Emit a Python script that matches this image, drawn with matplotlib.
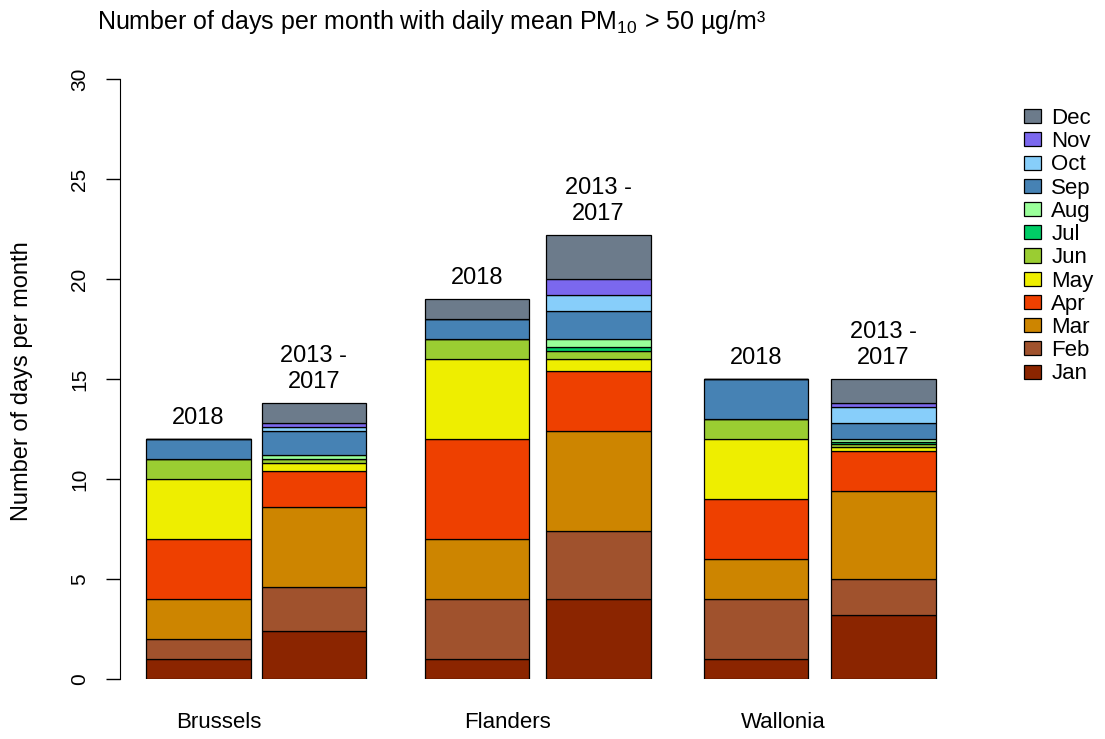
import matplotlib
matplotlib.use("Agg")
import matplotlib.pyplot as plt
import numpy as np

plt.rcParams['font.family'] = ['Liberation Sans', 'DejaVu Sans']
plt.rcParams['mathtext.fontset'] = 'custom'
plt.rcParams['mathtext.rm'] = 'Liberation Sans'
plt.rcParams['mathtext.it'] = 'Liberation Sans'

months = ["Jan", "Feb", "Mar", "Apr", "May", "Jun",
          "Jul", "Aug", "Sep", "Oct", "Nov", "Dec"]
colors = ["#8B2500", "#A0522D", "#CD8500", "#EE4000", "#EEEE00", "#9ACD32",
          "#00CD66", "#9AFF9A", "#4682B4", "#87CEFA", "#7B68EE", "#6C7B8B"]

regions = ["Brussels", "Flanders", "Wallonia"]
bar_labels = ["2018", "2013 -\n2017"] * 3

# days per month, one list per bar (Jan..Dec)
brussels_2018 = [1, 1, 2, 3, 3, 1, 0, 0, 1, 0, 0, 0]
brussels_1317 = [2.4, 2.2, 4.0, 1.8, 0.4, 0.2, 0.0, 0.2, 1.2, 0.2, 0.2, 1.0]
flanders_2018 = [1, 3, 3, 5, 4, 1, 0, 0, 1, 0, 0, 1]
flanders_1317 = [4.0, 3.4, 5.0, 3.0, 0.6, 0.4, 0.2, 0.4, 1.4, 0.8, 0.8, 2.2]
wallonia_2018 = [1, 3, 2, 3, 3, 1, 0, 0, 2, 0, 0, 0]
wallonia_1317 = [3.2, 1.8, 4.4, 2.0, 0.2, 0.15, 0.1, 0.15, 0.8, 0.8, 0.2, 1.2]

data = np.array([brussels_2018, brussels_1317, flanders_2018,
                 flanders_1317, wallonia_2018, wallonia_1317])

xpos = np.array([0, 1.06, 2.56, 3.68, 5.13, 6.30])
region_x = [0.19, 2.84, 5.38]
width = 0.96

fig = plt.figure(figsize=(11.05, 7.39), dpi=100)
ax = fig.add_axes([120 / 1105, 60 / 739, 840 / 1105, 600 / 739])

bottom = np.zeros(len(xpos))
for i, m in enumerate(months):
    ax.bar(xpos, data[:, i], width=width, bottom=bottom, color=colors[i],
           edgecolor="black", linewidth=0.9, label=m)
    bottom += data[:, i]

totals = data.sum(axis=1)
for x, t, lab in zip(xpos, totals, bar_labels):
    ax.text(x, t + 0.5, lab, ha="center", va="bottom", fontsize=17,
            linespacing=1.25)

for x, r in zip(region_x, regions):
    ax.text(x, -2.15, r, ha="center", va="center", fontsize=16)

ax.set_xlim(-0.722, 7.005)
ax.set_ylim(0, 30)
ax.set_yticks(np.arange(0, 31, 5))
ax.tick_params(axis="y", labelsize=15, length=10, width=1, pad=12, labelrotation=90)
for lbl in ax.get_yticklabels():
    lbl.set_va("center")
ax.set_xticks([])
for s in ["top", "right", "bottom"]:
    ax.spines[s].set_visible(False)

fig.text(22 / 1105, 1 - 381 / 739, "Number of days per month", fontsize=17,
         rotation=90, ha="center", va="center")

fig.text(97 / 1105, 1 - 22 / 739,
         "Number of days per month with daily mean PM$_{10}$ > 50 µg/m³",
         fontsize=18, ha="left", va="center")

h, l = ax.get_legend_handles_labels()
fig.legend(h[::-1], l[::-1], loc="upper left", bbox_to_anchor=(1024 / 1105, 1 - 108 / 739),
           frameon=False, fontsize=16, handlelength=0.78, handleheight=0.6,
           labelspacing=0.1, handletextpad=0.45, borderaxespad=0, borderpad=0)

fig.savefig("out.png", dpi=100)
